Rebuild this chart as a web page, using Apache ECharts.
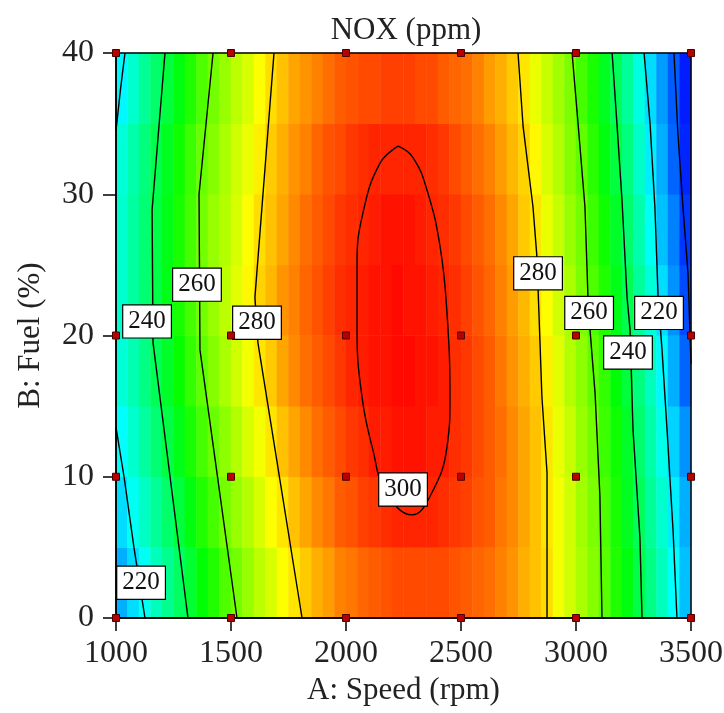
<!DOCTYPE html>
<html>
<head>
<meta charset="utf-8">
<title>NOX (ppm)</title>
<script src="https://cdn.jsdelivr.net/npm/echarts/dist/echarts.min.js"></script>
<style>
html, body { margin: 0; padding: 0; background: #fff; }
#chart { width: 724px; height: 713px; }
</style>
</head>
<body>
<div id="chart"></div>
<script>
// colour field: cell centres (speed, fuel) and NOX, one row per fuel band
const speedCells = [1025, 1075, 1125, 1175, 1225, 1275, 1325, 1375, 1425, 1475,
    1525, 1575, 1625, 1675, 1725, 1775, 1825, 1875, 1925, 1975,
    2025, 2075, 2125, 2175, 2225, 2275, 2325, 2375, 2425, 2475,
    2525, 2575, 2625, 2675, 2725, 2775, 2825, 2875, 2925, 2975,
    3025, 3075, 3125, 3175, 3225, 3275, 3325, 3375, 3425, 3475];
const fuelCells = [2.5, 7.5, 12.5, 17.5, 22.5, 27.5, 32.5, 37.5];

const nox_2_5 = [212,217,222,228,233,238,243,248,252,257,261,265,269,272,276,279,282,285,287,290,291,293,294,295,296,296,296,296,296,295,294,293,292,290,288,285,283,280,275,271,267,263,258,252,247,241,234,228,221,214];
const nox_7_5 = [217,222,227,232,237,242,247,252,256,261,265,268,272,276,279,283,286,289,291,294,295,297,298,299,300,300,300,300,299,298,297,295,294,291,289,286,283,279,275,271,266,262,257,251,245,239,232,226,219,212];
const nox_12_5 = [221,226,231,236,241,246,251,256,260,264,268,272,275,279,283,286,289,292,294,296,298,299,301,301,302,302,302,301,301,299,298,296,294,292,289,286,283,279,274,270,265,261,255,250,244,237,230,223,216,209];
const nox_17_5 = [225,229,234,239,244,249,254,259,263,267,271,275,279,282,286,289,292,294,296,298,300,301,302,302,303,303,302,302,301,299,298,296,294,291,288,285,282,278,273,268,264,259,254,248,242,235,228,220,212,204];
const nox_22_5 = [226,231,236,241,246,251,256,261,265,269,273,277,281,284,288,290,293,295,297,299,300,301,302,302,303,302,302,301,300,299,297,295,293,290,287,284,280,276,271,267,262,257,252,246,240,232,225,217,209,201];
const nox_27_5 = [226,231,236,241,246,251,256,261,265,268,272,276,280,283,286,289,292,294,296,298,299,300,301,302,302,302,301,300,299,298,296,294,292,289,286,282,279,274,270,265,261,255,250,244,237,230,222,214,207,199];
const nox_32_5 = [225,230,235,240,245,250,255,260,263,267,271,274,278,282,285,288,290,293,295,296,298,299,300,300,300,300,300,299,298,296,294,292,290,287,284,281,277,272,268,263,259,253,247,242,235,227,219,212,204,197];
const nox_37_5 = [220,226,232,237,242,247,252,257,261,265,269,272,276,280,283,286,288,290,292,294,295,296,296,297,297,297,296,296,294,293,292,290,287,285,282,279,274,270,266,262,256,251,245,239,232,224,217,210,203,196];
const noxRows = [nox_2_5, nox_7_5, nox_12_5, nox_17_5, nox_22_5, nox_27_5, nox_32_5, nox_37_5];

// contour lines [speed, fuel]
const c220_low = [[1126,0],[1078,5],[1035,10],[1000,13.5]];
const c220_top = [[1000,34.5],[1020,37.5],[1039,40]];
const c240_left = [[1313,0],[1161,19.5],[1157,28.9],[1213,40]];
const c260_left = [[1526,0],[1365,19],[1361,30],[1422,40]];
const c280_left = [[1809,0],[1617,19.5],[1604,22.7],[1687,40]];
const c300 = [[2227,33.4],[2291,32.6],[2352,30.3],[2409,26.3],[2439,21.6],[2452,15.6],[2439,12.1],[2365,8.6],[2287,7.3],[2170,9.1],[2117,11.9],[2070,15.6],[2048,20.4],[2048,25.1],[2074,28.7],[2148,32.2],[2227,33.4]];
const c280_right = [[2874,0],[2874,10.3],[2852,15.6],[2843,19.7],[2830,25.6],[2813,29.1],[2770,34.8],[2748,40]];
const c260_right = [[3113,0],[3104,8.6],[3083,15.9],[3061,20.4],[3052,22.7],[3039,29.1],[3009,35],[2983,40]];
const c240_right = [[3287,0],[3278,5.7],[3248,13.3],[3235,20.4],[3222,22.7],[3200,29.6],[3178,35],[3157,40]];
const c220_right = [[3439,0],[3422,6.2],[3396,13.3],[3374,19],[3357,22.7],[3343,29.1],[3322,35],[3296,40]];
const c200_right = [[3426,40],[3443,34.3],[3465,29.1],[3487,24.4],[3500,18]];

// contour value boxes [speed, fuel, text]
const contourLabels = [
    [1109, 2.5, '220'], [1135, 21.0, '240'], [1352, 23.6, '260'], [1613, 20.9, '280'],
    [2248, 9.1, '300'], [2835, 24.4, '280'], [3057, 21.6, '260'], [3361, 21.6, '220'],
    [3226, 18.8, '240']
];

// design points
const designPoints = [
    [1000,0],[1500,0],[2000,0],[2500,0],[3000,0],[3500,0],
    [1000,10],[1500,10],[2000,10],[2500,10],[3000,10],[3500,10],
    [1000,20],[1500,20],[2000,20],[2500,20],[3000,20],[3500,20],
    [1000,40],[1500,40],[2000,40],[2500,40],[3000,40],[3500,40]
];

const heatData = [];
noxRows.forEach(function (row, j) {
    row.forEach(function (v, i) { heatData.push([i, j, v]); });
});

const serif = 'Liberation Serif';
const ink = '#222';
const plot = { left: 116, top: 53, width: 575, height: 565, outerBoundsMode: 'none' };

const chart = echarts.init(document.getElementById('chart'), null, { renderer: 'canvas' });

const contourSeries = [c220_low, c220_top, c240_left, c260_left, c280_left, c300,
    c280_right, c260_right, c240_right, c220_right, c200_right].map(function (c) {
    return {
        type: 'line',
        xAxisIndex: 0,
        yAxisIndex: 0,
        data: c,
        symbol: 'none',
        smooth: c === c300 ? 0.45 : 0,
        silent: true,
        z: 4,
        lineStyle: { color: '#000', width: 1.4 }
    };
});

const option = {
    animation: false,
    title: {
        text: 'NOX (ppm)',
        left: 401,
        top: 10,
        textAlign: 'center',
        textStyle: { fontFamily: serif, fontSize: 31, fontWeight: 'normal', color: ink }
    },
    grid: [
        Object.assign({ show: true, z: 3, borderColor: '#000', borderWidth: 1.5, backgroundColor: 'transparent' }, plot),
        Object.assign({ show: false }, plot)
    ],
    xAxis: [
        {
            type: 'value', gridIndex: 0, min: 1000, max: 3500, interval: 500, z: 3,
            name: 'A: Speed (rpm)', nameLocation: 'middle', nameGap: 55,
            nameTextStyle: { fontFamily: serif, fontSize: 31, color: ink },
            axisLine: { show: true, onZero: false, lineStyle: { color: '#000', width: 1.5 } },
            axisTick: { show: true, length: 13, lineStyle: { color: '#000', width: 1.5 } },
            axisLabel: {
                margin: 20, fontFamily: serif, fontSize: 32, color: ink,
                formatter: function (v) { return String(v); }
            },
            splitLine: { show: false }
        },
        { type: 'category', gridIndex: 1, data: speedCells, show: false }
    ],
    yAxis: [
        {
            type: 'value', gridIndex: 0, min: 0, max: 40, interval: 10, z: 3,
            name: 'B: Fuel (%)', nameLocation: 'middle', nameGap: 70, nameRotate: 90,
            nameTextStyle: { fontFamily: serif, fontSize: 31, color: ink },
            axisLine: { show: true, onZero: false, lineStyle: { color: '#000', width: 1.5 } },
            axisTick: { show: true, length: 13, lineStyle: { color: '#000', width: 1.5 } },
            axisLabel: { margin: 22, fontFamily: serif, fontSize: 32, color: ink },
            splitLine: { show: false }
        },
        { type: 'category', gridIndex: 1, data: fuelCells, show: false }
    ],
    visualMap: {
        type: 'continuous',
        show: false,
        seriesIndex: 0,
        min: 193,
        max: 304,
        inRange: { color: ['#0000ff', '#00ffff', '#00ff00', '#ffff00', '#ff0000'] }
    },
    series: [
        {
            type: 'heatmap',
            xAxisIndex: 1,
            yAxisIndex: 1,
            data: heatData,
            progressive: 0,
            silent: true,
            z: 1
        }
    ].concat(contourSeries).concat([
        {
            type: 'scatter',
            xAxisIndex: 0,
            yAxisIndex: 0,
            data: contourLabels,
            symbolSize: 0,
            itemStyle: { color: '#fff', opacity: 1 },
            silent: true,
            z: 6,
            label: {
                show: true,
                position: 'inside',
                formatter: function (p) { return p.value[2]; },
                fontFamily: serif,
                fontSize: 25,
                color: '#111',
                opacity: 1,
                backgroundColor: '#fff',
                borderColor: '#000',
                borderWidth: 1.2,
                padding: [4, 5, 3, 5]
            }
        },
        {
            type: 'scatter',
            xAxisIndex: 0,
            yAxisIndex: 0,
            data: designPoints,
            symbol: 'rect',
            symbolSize: 7,
            silent: true,
            z: 7,
            itemStyle: { color: '#b80000', borderColor: '#4a0000', borderWidth: 1, opacity: 1 }
        }
    ])
};

chart.setOption(option);
</script>
</body>
</html>
